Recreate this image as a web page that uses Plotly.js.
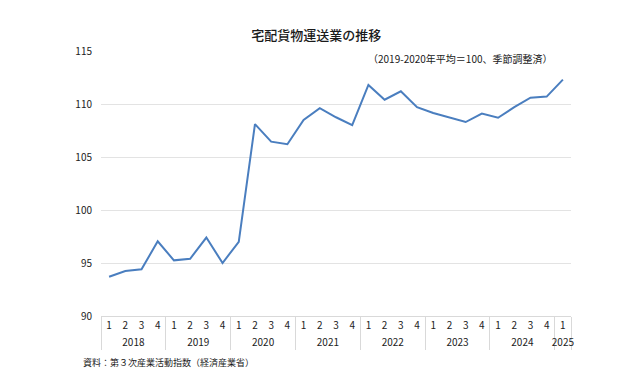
<!DOCTYPE html>
<html>
<head>
<meta charset="utf-8">
<script src="https://cdn.plot.ly/plotly-3.0.1.min.js"></script>
<style>html,body{margin:0;padding:0;background:#fff}#chart{width:640px;height:381px}</style>
</head>
<body>
<div id="chart"></div>
<script>
var years = ['2018','2018','2018','2018','2019','2019','2019','2019','2020','2020','2020','2020',
             '2021','2021','2021','2021','2022','2022','2022','2022','2023','2023','2023','2023',
             '2024','2024','2024','2024','2025'];
var quarters = ['1','2','3','4','1','2','3','4','1','2','3','4','1','2','3','4',
                '1','2','3','4','1','2','3','4','1','2','3','4','1'];
var values = [93.7, 94.25, 94.4, 97.05, 95.25, 95.4, 97.4, 95.0, 97.0, 108.1, 106.45, 106.2,
              108.5, 109.6, 108.75, 108.0, 111.8, 110.4, 111.2, 109.7, 109.15, 108.7, 108.3, 109.1,
              108.7, 109.7, 110.6, 110.7, 112.3];
var yTicks = [90, 95, 100, 105, 110, 115];
var titleText = '宅配貨物運送業の推移';
var noteText = '（2019-2020年平均＝100、季節調整済）';
var sourceText = '資料：第３次産業活動指数（経済産業省）';

var FONT = '"Noto Sans CJK JP", "Noto Sans", sans-serif';

var trace = {
  type: 'scatter',
  mode: 'lines',
  x: [years, quarters],
  y: values,
  line: {color: '#4a7ebf', width: 2},
  hoverinfo: 'skip'
};

var layout = {
  width: 640, height: 381,
  margin: {l: 101, r: 69, t: 51, b: 65},
  paper_bgcolor: '#ffffff',
  plot_bgcolor: '#ffffff',
  showlegend: false,
  font: {family: FONT, color: '#333333', size: 10},
  title: {
    text: titleText,
    font: {family: FONT, size: 13, color: '#1a1a1a', weight: 500},
    xref: 'container', yref: 'container',
    x: 0.494, xanchor: 'center',
    y: 0.908, yanchor: 'middle'
  },
  xaxis: {
    type: 'multicategory',
    range: [-0.5, values.length - 0.5],
    autorange: false,
    showgrid: false,
    showline: true,
    linecolor: '#d9d9d9',
    linewidth: 1,
    ticks: '',
    showdividers: true,
    dividercolor: '#d9d9d9',
    dividerwidth: 1,
    tickfont: {family: FONT, size: 10, color: '#222222'},
    zeroline: false,
    fixedrange: true
  },
  yaxis: {
    range: [90, 115],
    tickvals: yTicks,
    ticktext: yTicks.map(String),
    showgrid: true,
    gridcolor: '#e3e3e3',
    gridwidth: 1,
    zeroline: false,
    showline: false,
    ticks: '',
    ticklabelstandoff: 8,
    tickfont: {family: FONT, size: 10, color: '#222222'},
    fixedrange: true
  },
  annotations: [
    {
      text: noteText, xref: 'paper', yref: 'paper',
      x: 0.967, y: 0.970, xanchor: 'right', yanchor: 'middle',
      showarrow: false, font: {family: FONT, size: 10, color: '#1a1a1a'}
    },
    {
      text: sourceText, xref: 'paper', yref: 'paper',
      x: -0.0426, y: -0.177, xanchor: 'left', yanchor: 'middle',
      showarrow: false, font: {family: FONT, size: 9, color: '#1a1a1a'}
    }
  ]
};

Plotly.newPlot('chart', [trace], layout, {displayModeBar: false, staticPlot: true});
</script>
</body>
</html>
